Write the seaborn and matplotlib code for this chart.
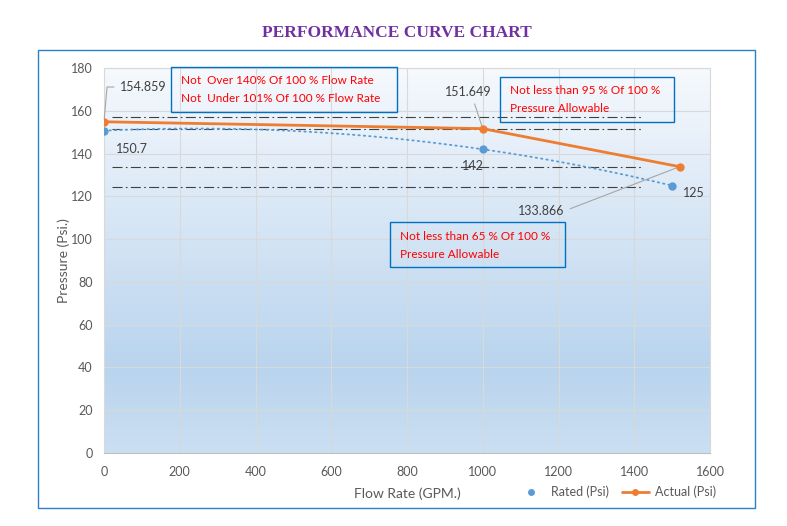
import numpy as np
import pandas as pd
import matplotlib
matplotlib.use("Agg")
import matplotlib.pyplot as plt
import seaborn as sns
from matplotlib.colors import LinearSegmentedColormap
from matplotlib.patches import Rectangle
from matplotlib.lines import Line2D

# Datos de la curva
rated_flow = [0, 1000, 1500]
rated_psi = [150.7, 142, 125]
actual_flow = [0, 1000, 1520]
actual_psi = [154.859, 151.649, 133.866]

# Lineas limite (dash-dot)
limit_levels = [157.0, 151.3, 133.6, 124.2]
limit_start = 20
limit_end = 1420

df_rated = pd.DataFrame({"flow": rated_flow, "psi": rated_psi})
df_actual = pd.DataFrame({"flow": actual_flow, "psi": actual_psi})

sns.set_style("white")
plt.rcParams["font.family"] = ["Lato", "DejaVu Sans"]

W, H = 787, 526
fig = plt.figure(figsize=(W / 100, H / 100), dpi=100)
ax = fig.add_axes([104 / W, 1 - 453 / H, (710 - 104) / W, (453 - 68) / H])


def fp(x, y):
    # pixeles de la imagen -> fraccion de la figura
    return x / W, 1 - y / H


# Fondo degradado del area de trazado
grad = LinearSegmentedColormap.from_list(
    "bg", [(0, "#f6f9fd"), (0.78, "#b9d4ee"), (1.0, "#cbdff2")])
ax.imshow(np.linspace(0, 1, 256).reshape(-1, 1), cmap=grad, aspect="auto",
          extent=[0, 1, 0, 1], transform=ax.transAxes, zorder=0)

ax.set_axisbelow(True)
ax.grid(True, color="#d9d9d9", lw=0.8)

# Lineas limite
ax.hlines(limit_levels, limit_start, limit_end, colors="#404040", lw=0.8,
          linestyles=[(0, (9, 3, 1.5, 3))], zorder=2)

# Linea de tendencia polinomica (orden 2) de Rated
sns.regplot(data=df_rated, x="flow", y="psi", order=2, ci=None, scatter=False,
            truncate=True, ax=ax,
            line_kws=dict(color="#5b9bd5", lw=1.3, ls=(0, (0.8, 2.2)),
                          dash_capstyle="round", zorder=3))
sns.scatterplot(data=df_rated, x="flow", y="psi", color="#5b9bd5", s=36,
                edgecolor="#5b9bd5", linewidth=0, ax=ax, zorder=4)
sns.lineplot(data=df_actual, x="flow", y="psi", color="#ed7d31", lw=2.0,
             marker="o", markersize=6, markeredgewidth=0, ax=ax, zorder=5)

ax.set_xlim(0, 1600)
ax.set_ylim(0, 180)
ax.set_xticks(range(0, 1601, 200))
ax.set_yticks(range(0, 181, 20))
ax.tick_params(length=0, labelsize=9, labelcolor="#595959")
ax.tick_params(axis="x", pad=9)
ax.tick_params(axis="y", pad=8)
for s in ax.spines.values():
    s.set_color("#d9d9d9")
    s.set_linewidth(0.8)
ax.spines["bottom"].set_color("#bfbfbf")
ax.set_xlabel("Flow Rate (GPM.)", fontsize=10, color="#595959", labelpad=7)
ax.set_ylabel("Pressure (Psi.)", fontsize=10, color="#595959", labelpad=1)

# Etiquetas de datos
lab = dict(fontsize=9, color="#404040")
lead = dict(arrowstyle="-", color="#a6a6a6", lw=0.8, shrinkA=2, shrinkB=2)
ax.annotate("154.859", xy=(actual_flow[0], actual_psi[0]),
            xytext=fp(120, 87), textcoords="figure fraction", va="center",
            arrowprops=dict(lead, relpos=(0, 0.5),
                            connectionstyle="angle,angleA=0,angleB=85,rad=0"),
            **lab)
ax.annotate("150.7", xy=fp(116, 149), xycoords="figure fraction",
            va="center", **lab)
ax.annotate("151.649", xy=(actual_flow[1], actual_psi[1]),
            xytext=fp(468, 92), textcoords="figure fraction", ha="center",
            va="center",
            arrowprops=dict(lead, relpos=(0.6, 0)), **lab)
ax.annotate("142", xy=fp(473, 166), xycoords="figure fraction", ha="center",
            va="center", **lab)
ax.annotate("125", xy=fp(694, 193), xycoords="figure fraction", ha="center",
            va="center", **lab)
ax.annotate("133.866", xy=(actual_flow[2], actual_psi[2]),
            xytext=fp(541, 211), textcoords="figure fraction", ha="center",
            va="center",
            arrowprops=dict(lead, relpos=(1, 0.5)), **lab)

# Cuadros de notas
notes = [
    ((171, 67, 397, 112), ["Not  Over 140% Of 100 % Flow Rate",
                           "Not  Under 101% Of 100 % Flow Rate"]),
    ((500, 77, 674, 122), ["Not less than 95 % Of 100 %",
                           "Pressure Allowable"]),
    ((390, 222, 565, 267), ["Not less than 65 % Of 100 %",
                            "Pressure Allowable"]),
]
for (x0, y0, x1, y1), lines in notes:
    fx0, fy1 = fp(x0, y1)
    fig.add_artist(Rectangle((fx0, fy1), (x1 - x0) / W, (y1 - y0) / H,
                             transform=fig.transFigure, fill=False,
                             edgecolor="#0070c0", lw=1.0, zorder=6))
    for i, t in enumerate(lines):
        fig.text(*fp(x0 + 10, y0 + 14 + i * 18), t, fontsize=8.5,
                 color="#ff0000", va="center", zorder=7)

# Leyenda
handles = [
    Line2D([], [], ls="none", marker="o", color="#5b9bd5", markersize=5,
           markeredgewidth=0),
    Line2D([], [], color="#ed7d31", lw=2.0, marker="o", markersize=5,
           markeredgewidth=0),
]
fig.legend(handles, ["Rated (Psi)", "Actual (Psi)"], loc="center left",
           bbox_to_anchor=fp(506, 492), ncol=2, frameon=False, fontsize=9,
           labelcolor="#595959", handlelength=2.2, handletextpad=0.5,
           columnspacing=1.0)

# Titulo y marco del grafico
fig.text(*fp(397, 33), "PERFORMANCE CURVE CHART", ha="center", va="center",
         fontsize=12.5, fontweight="bold", color="#7030a0",
         family=["Liberation Serif", "DejaVu Serif"])
fx0, fy1 = fp(38, 508)
fig.add_artist(Rectangle((fx0, fy1), (755 - 38) / W, (508 - 50) / H,
                         transform=fig.transFigure, fill=False,
                         edgecolor="#2e7fcb", lw=1.0))

fig.savefig("out.png", dpi=100)
